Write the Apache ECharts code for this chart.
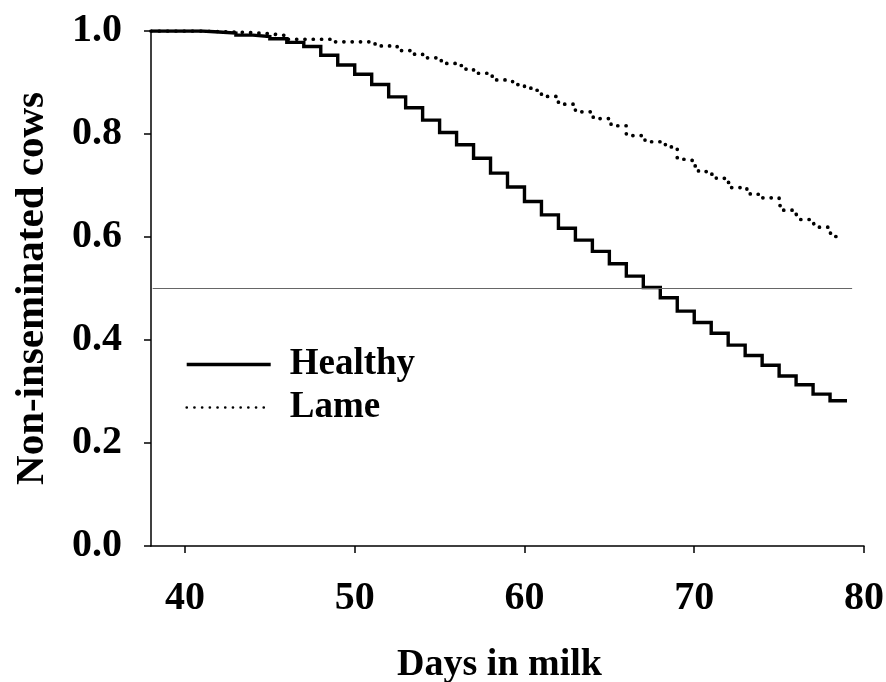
<!DOCTYPE html>
<html>
<head>
<meta charset="utf-8">
<script src="https://cdn.jsdelivr.net/npm/echarts@6/dist/echarts.min.js"></script>
<style>html,body{margin:0;padding:0;background:#fff;}#chart{width:886px;height:682px;}</style>
</head>
<body>
<div id="chart"></div>
<script>
// Kaplan-Meier style survival data (day in milk, proportion non-inseminated)
const healthyDays = [38, 41, 42, 43, 44, 45, 46, 47, 48, 49, 50, 51, 52, 53, 54, 55, 56, 57, 58, 59, 60, 61, 62, 63, 64, 65, 66, 67, 68, 69, 70, 71, 72, 73, 74, 75, 76, 77, 78, 79];
const healthyVals = [1.0, 0.998, 0.996, 0.992, 0.989, 0.985, 0.978, 0.970, 0.953, 0.934, 0.916, 0.896, 0.872, 0.851, 0.827, 0.803, 0.779, 0.753, 0.724, 0.697, 0.669, 0.643, 0.617, 0.594, 0.572, 0.548, 0.524, 0.502, 0.482, 0.456, 0.434, 0.413, 0.390, 0.370, 0.351, 0.330, 0.313, 0.295, 0.282, 0.282];

const lameDays = [38, 41.0, 43.8, 45.2, 46.0, 48.7, 51.2, 52.5, 53.3, 54.0, 55.1, 56.0, 56.3, 57.0, 58.1, 59.0, 59.3, 60.0, 60.4, 61.0, 62.0, 63.0, 64.05, 65.1, 66.0, 67.1, 68.3, 69.0, 69.5, 70.0, 70.25, 71.0, 71.3, 71.95, 72.15, 73.1, 73.3, 74.0, 75.0, 75.25, 76.0, 76.1, 77.0, 77.1, 78.0, 78.05, 78.7];
const lameVals = [1.0, 0.997, 0.994, 0.991, 0.984, 0.979, 0.971, 0.962, 0.955, 0.948, 0.937, 0.933, 0.926, 0.918, 0.905, 0.903, 0.896, 0.889, 0.885, 0.873, 0.858, 0.843, 0.830, 0.816, 0.797, 0.785, 0.775, 0.751, 0.748, 0.738, 0.727, 0.722, 0.714, 0.706, 0.696, 0.689, 0.683, 0.676, 0.661, 0.652, 0.645, 0.634, 0.630, 0.619, 0.615, 0.601, 0.601];

const refLineDays = [38.1, 79.3];
const refLineVal = 0.5;

const xTicks = [40, 50, 60, 70, 80];
const seriesNames = ['Healthy', 'Lame'];

const font = 'Liberation Serif';
const chart = echarts.init(document.getElementById('chart'), null, {renderer: 'canvas'});

chart.setOption({
  animation: false,
  backgroundColor: '#fff',
  grid: {left: 151, right: 22, top: 31, bottom: 136, containLabel: false, outerBoundsMode: 'none'},
  legend: {
    show: true,
    orient: 'vertical',
    left: 180,
    top: 341,
    itemWidth: 84,
    itemHeight: 14,
    itemGap: 6,
    data: [
      {name: seriesNames[0], lineStyle: {width: 3.4, color: '#000'}},
      {name: seriesNames[1], lineStyle: {width: 2.6, color: '#000', type: [0.1, 7.6], cap: 'round'}}
    ],
    itemStyle: {color: 'rgba(0,0,0,0)', borderColor: 'rgba(0,0,0,0)', borderWidth: 0},
    textStyle: {fontFamily: font, fontWeight: 'bold', fontSize: 37, color: '#000', lineHeight: 36, padding: [0, 0, 0, 14]}
  },
  xAxis: {
    type: 'value',
    min: 38,
    max: 80,
    name: 'Days in milk',
    nameLocation: 'middle',
    nameGap: 100,
    nameTextStyle: {fontFamily: font, fontWeight: 'bold', fontSize: 38, color: '#000', padding: [0, 16, 0, 0]},
    axisLine: {show: true, onZero: false, lineStyle: {color: '#000', width: 1.5}},
    axisTick: {show: true, inside: false, length: 7, lineStyle: {color: '#000', width: 1.5}, customValues: xTicks},
    axisLabel: {fontFamily: font, fontWeight: 'bold', fontSize: 40, color: '#000', margin: 33, customValues: xTicks},
    splitLine: {show: false}
  },
  yAxis: {
    type: 'value',
    min: 0,
    max: 1,
    interval: 0.2,
    name: 'Non-inseminated cows',
    nameLocation: 'middle',
    nameGap: 98,
    nameTextStyle: {fontFamily: font, fontWeight: 'bold', fontSize: 41, color: '#000'},
    axisLine: {show: true, lineStyle: {color: '#000', width: 1.5}},
    axisTick: {show: true, inside: false, length: 7, lineStyle: {color: '#000', width: 1.5}},
    axisLabel: {fontFamily: font, fontWeight: 'bold', fontSize: 40, color: '#000', margin: 29, formatter: v => v.toFixed(1)},
    splitLine: {show: false}
  },
  series: [
    {
      name: seriesNames[0],
      type: 'line',
      step: 'end',
      symbol: 'none',
      data: healthyDays.map((d, i) => [d, healthyVals[i]]),
      lineStyle: {color: '#000', width: 3.4, cap: 'butt', join: 'miter'},
      itemStyle: {color: '#000'},
      z: 3,
      markLine: {
        silent: true,
        symbol: ['none', 'none'],
        label: {show: false},
        lineStyle: {color: '#666', width: 1.2, type: 'solid'},
        data: [[{coord: [refLineDays[0], refLineVal]}, {coord: [refLineDays[1], refLineVal]}]]
      }
    },
    {
      name: seriesNames[1],
      type: 'line',
      step: 'end',
      symbol: 'none',
      data: lameDays.map((d, i) => [d, lameVals[i]]),
      lineStyle: {color: '#000', width: 3.7, type: [0.1, 8.2], cap: 'round'},
      itemStyle: {color: '#000'},
      z: 2
    }
  ]
});
</script>
</body>
</html>
